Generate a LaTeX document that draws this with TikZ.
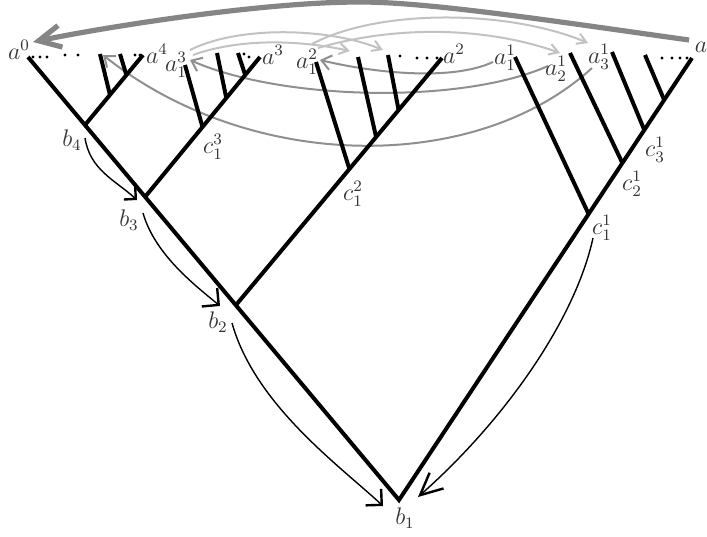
\documentclass[tikz,border=0pt]{standalone}
\usetikzlibrary{arrows.meta}
\definecolor{gdark}{gray}{0.52}
\definecolor{gmid}{gray}{0.56}
\definecolor{glight}{gray}{0.76}
\definecolor{lblcol}{gray}{0.2}
\tikzset{
  branch/.style={line width=2pt, line join=miter},
  lbl/.style={inner sep=0pt, text=lblcol, font=\fontsize{11.5}{13}\selectfont},
  bigarrow/.style={draw=gdark, line width=2.6pt, -{Straight Barb[length=11pt,width=11pt]}},
  midarrow/.style={draw=gmid, line width=1pt, -{Straight Barb[length=4.7pt,width=7.4pt]}},
  lightarrow/.style={draw=glight, line width=1pt, -{Straight Barb[length=4.5pt,width=5.5pt]}},
  thinarrow/.style={line width=0.7pt},
}
\begin{document}
\begin{tikzpicture}[x=0.5pt,y=-0.5pt]
\useasboundingbox (0,0) rectangle (707,536);

% ---------- tree points ----------
\coordinate (A0) at (28,57);
\coordinate (B1) at (399,500);
\coordinate (AR) at (692,58);
\coordinate (B4) at (85,125);
\coordinate (A4) at (143,55);
\coordinate (B3) at (145,197);
\coordinate (A3) at (260,57);
\coordinate (B2) at (236,305);
\coordinate (A2) at (442,58);
\coordinate (C13) at (202.5,127);
\coordinate (C12) at (349.4,169);
\coordinate (C11) at (588.6,214);
\coordinate (C21) at (622.4,163);
\coordinate (C31) at (644.3,130);
\coordinate (C41) at (664.2,100);
% branch tops / bottoms
\coordinate (t41) at (100,54);  \coordinate (u41) at (110,95);
\coordinate (t42) at (120,54);  \coordinate (u42) at (126.4,75);
\coordinate (t31) at (185,65);
\coordinate (t32) at (217,53);  \coordinate (u32) at (226.3,98);
\coordinate (t33) at (238,53);  \coordinate (u33) at (245.2,75);
\coordinate (t21) at (316,62);
\coordinate (t22) at (358,57);  \coordinate (u22) at (376.1,137);
\coordinate (t23) at (388,55);  \coordinate (u23) at (398.6,110);
\coordinate (t11) at (515,57);
\coordinate (t12) at (570,53);
\coordinate (t13) at (612,52);
\coordinate (t14) at (645,55);

% ---------- light gray arrows ----------
\coordinate (l1s) at (190,50);  \coordinate (l1e) at (383,50);
\coordinate (l2s) at (193,55);  \coordinate (l2e) at (350,51);
\coordinate (l3s) at (312,44);  \coordinate (l3e) at (588,43);
\coordinate (l4s) at (318,48);  \coordinate (l4e) at (560,53);
\draw[lightarrow] (l1s) .. controls (240,25) and (330,28) .. (l1e);
\draw[lightarrow] (l2s) .. controls (240,38) and (300,40) .. (l2e);
\draw[lightarrow] (l3s) .. controls (380,8) and (510,10) .. (l3e);
\draw[lightarrow] (l4s) .. controls (400,24) and (490,28) .. (l4e);

% ---------- medium gray arrows ----------
\coordinate (ma1) at (493,62);  \coordinate (ma2) at (320,60);
\coordinate (mb1) at (548,66);  \coordinate (mb2) at (190,60);
\coordinate (mc1) at (592,68);  \coordinate (mc2) at (103,55);
\draw[midarrow] (ma1) .. controls (450,82) and (370,72) .. (ma2);
\draw[midarrow] (mb1) .. controls (460,105) and (280,100) .. (mb2);
\draw[midarrow] (mc1) .. controls (475,175) and (250,172) .. (mc2);

% ---------- big gray arrow ----------
\coordinate (gs) at (689,40);
\coordinate (gp) at (360,2);
\coordinate (ge) at (33,42);
\draw[bigarrow] (gs) .. controls (560,22) and (430,2) .. (gp)
   .. controls (260,2) and (100,28) .. (ge);

% ---------- tree ----------
\draw[branch] (A0) -- (B1) -- (AR);
\draw[branch] (B4) -- (A4);
\draw[branch] (B3) -- (A3);
\draw[branch] (B2) -- (A2);
\draw[branch] (t41) -- (u41);
\draw[branch] (t42) -- (u42);
\draw[branch] (t31) -- (C13);
\draw[branch] (t32) -- (u32);
\draw[branch] (t33) -- (u33);
\draw[branch] (t21) -- (C12);
\draw[branch] (t22) -- (u22);
\draw[branch] (t23) -- (u23);
\draw[branch] (t11) -- (C11);
\draw[branch] (t12) -- (C21);
\draw[branch] (t13) -- (C31);
\draw[branch] (t14) -- (C41);

% dots
\foreach \p in {(33,57),(40,57),(47,57),(65,55),(78,55),(135,55),(140,55),
                (244,54),(249,57),(400,56),(417,58),(427,58),(437,58),
                (662,58),(672,58),(680,58),(687,58)}
  \fill \p circle (1.6);

% ---------- thin black arrows ----------
\coordinate (s43) at (85,138);  \coordinate (e43) at (137,200);
\coordinate (s32) at (143,213); \coordinate (e32) at (220,306);
\coordinate (s21) at (232,323); \coordinate (e21) at (383,506);
\coordinate (s11) at (593,238); \coordinate (e11) at (418,497);
\draw[thinarrow, -{Straight Barb[length=4.2pt,width=8.5pt,line width=1.2pt]}]
  (s43) .. controls (90,170) and (115,180) .. (e43);
\draw[thinarrow, -{Straight Barb[length=6pt,width=12pt,line width=1.2pt]}]
  (s32) .. controls (155,255) and (196,286) .. (e32);
\draw[thinarrow, -{Straight Barb[length=5.7pt,width=11.3pt,line width=1.2pt]}]
  (s21) .. controls (255,405) and (340,466) .. (e21);
\draw[thinarrow, -{Straight Barb[length=11pt,width=10.5pt,line width=1.2pt]}]
  (s11) .. controls (575,320) and (505,420) .. (e11);

% ---------- labels ----------
\node[lbl] (la0) at (19,50) {$a^0$};
\node[lbl] (la4) at (157,54) {$a^4$};
\node[lbl] (la13) at (176,65) {$a_1^3$};
\node[lbl] (la3) at (273,55) {$a^3$};
\node[lbl] (la12) at (307,62) {$a_1^2$};
\node[lbl] (la2) at (454,54) {$a^2$};
\node[lbl] (la11) at (505,58) {$a_1^1$};
\node[lbl] (la21) at (556,69) {$a_2^1$};
\node[lbl] (la31) at (599,57) {$a_3^1$};
\node[lbl] (la) at (701,47) {$a$};
\node[lbl] (lb4) at (72,140) {$b_4$};
\node[lbl] (lb3) at (129,220) {$b_3$};
\node[lbl] (lb2) at (218,322) {$b_2$};
\node[lbl] (lb1) at (405,518) {$b_1$};
\node[lbl] (lc13) at (213,147) {$c_1^3$};
\node[lbl] (lc12) at (353,194) {$c_1^2$};
\node[lbl] (lc11) at (602,228) {$c_1^1$};
\node[lbl] (lc21) at (632,184) {$c_2^1$};
\node[lbl] (lc31) at (655,150) {$c_3^1$};
\end{tikzpicture}
\end{document}
